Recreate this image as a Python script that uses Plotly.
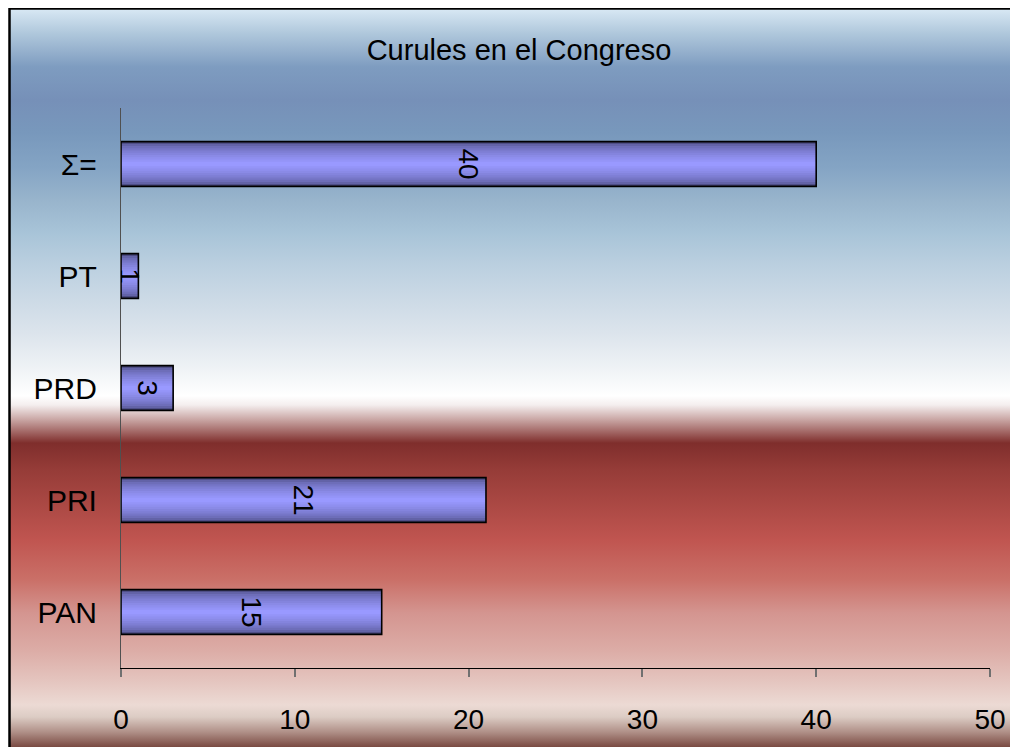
import base64
import plotly.graph_objects as go

# ---- data ----
categories = ["PAN", "PRI", "PRD", "PT", "Σ="]
seats = [15, 21, 3, 1, 40]
x_ticks = [0, 10, 20, 30, 40, 50]
title_text = "Curules en el Congreso"

# ---- styling ----
# The page body has an 8px margin, so figure coords = screenshot coords - 8.
OFF = 8
W, H = 1002, 739
L, T = 121 - OFF, 108 - OFF
R = W - (990 - OFF)
B = H - (668 - OFF)
PW, PH = W - L - R, H - T - B
FONT = "Liberation Sans, Arial, sans-serif"

# background gradient (screenshot y -> colour)
stops = [
    (9, "#d8e8f4"), (33, "#b0c8dc"), (67, "#7e9cc0"), (100, "#7690b8"),
    (133, "#7898bc"), (167, "#84a4c4"), (200, "#98b4cc"), (233, "#a8c4d8"),
    (267, "#bcd0e0"), (300, "#ccdae6"), (333, "#dce4ec"), (367, "#eef2f5"),
    (396, "#ffffff"), (405, "#f4eeee"), (420, "#c8a4a2"), (443, "#7f2e2c"),
    (470, "#963c38"), (540, "#c05550"), (580, "#ca7068"), (613, "#d49590"),
    (650, "#dcaca6"), (680, "#e4c4be"), (705, "#ecdad4"), (717, "#dcccc4"),
    (732, "#b09088"), (747, "#7a4a42"), (755, "#6a3028"), (770, "#5a2820"),
]
y_top = 8
y_bot = 770
hgt = y_bot - y_top
stop_svg = "".join(
    f'<stop offset="{(y - y_top) / hgt:.4f}" stop-color="{c}"/>' for y, c in stops
)
svg = (
    f'<svg xmlns="http://www.w3.org/2000/svg" width="{W}" height="{hgt}" '
    f'viewBox="0 0 {W} {hgt}" preserveAspectRatio="none">'
    f'<defs><linearGradient id="g" x1="0" y1="0" x2="0" y2="1">{stop_svg}</linearGradient></defs>'
    f'<rect x="0" y="0" width="{W}" height="{hgt}" fill="url(#g)"/></svg>'
)
src = "data:image/svg+xml;base64," + base64.b64encode(svg.encode()).decode()


def px_x(px):  # screenshot x -> paper
    return (px - OFF - L) / PW


def px_y(py):  # screenshot y -> paper
    return 1 - (py - OFF - T) / PH


fig = go.Figure()

# bar gradient via overlaid layers
n = 10
edge = (0x48, 0x48, 0x7c)
center = (0x99, 0x99, 0xff)
for i in range(n):
    f = i / (n - 1)
    t = f ** 0.5
    col = tuple(int(edge[k] + (center[k] - edge[k]) * t) for k in range(3))
    w = 0.4 * (1 - i / n)
    fig.add_trace(go.Bar(
        x=seats, y=categories, orientation="h", width=w,
        marker=dict(color="rgb(%d,%d,%d)" % col, line=dict(width=0)),
        hoverinfo="skip", showlegend=False,
    ))

# outline + labels
fig.add_trace(go.Bar(
    x=seats, y=categories, orientation="h", width=0.4,
    marker=dict(color="rgba(0,0,0,0)", line=dict(color="black", width=1.6)),
    text=[str(v) for v in seats], textposition="inside",
    insidetextanchor="middle", textangle=90, constraintext="none",
    textfont=dict(family=FONT, size=28, color="black"),
    showlegend=False,
))

fig.update_layout(
    width=W, height=H,
    margin=dict(l=L, r=R, t=T, b=B, autoexpand=False),
    barmode="overlay",
    paper_bgcolor="white",
    plot_bgcolor="rgba(0,0,0,0)",
    font=dict(family=FONT, size=28, color="black"),
    title=dict(text=title_text, x=(519 - OFF) / W, xanchor="center",
               y=1 - (50 - OFF) / H, yanchor="middle", yref="container",
               font=dict(family=FONT, size=29, color="black")),
    showlegend=False,
    images=[dict(
        source=src, xref="paper", yref="paper",
        x=px_x(9), y=px_y(y_top), sizex=(W + 20) / PW, sizey=hgt / PH,
        xanchor="left", yanchor="top", sizing="stretch", layer="below",
    )],
    shapes=[
        dict(type="line", xref="paper", yref="paper",
             x0=px_x(9), x1=px_x(W + 20), y0=px_y(8.5), y1=px_y(8.5),
             line=dict(color="black", width=2.5)),
        dict(type="line", xref="paper", yref="paper",
             x0=px_x(9.5), x1=px_x(9.5), y0=px_y(8), y1=px_y(H + 40),
             line=dict(color="black", width=2.5)),
    ],
)

fig.update_xaxes(
    range=[0, 50], tickvals=x_ticks, ticktext=[str(v) for v in x_ticks],
    showgrid=False, zeroline=False,
    showline=True, linecolor="black", linewidth=1.2,
    ticks="outside", ticklen=8, tickcolor="#707070", tickwidth=1.5,
    ticklabelstandoff=18, tickfont=dict(size=28),
)
fig.update_yaxes(
    showgrid=False, zeroline=False,
    showline=True, linecolor="#505050", linewidth=1.2,
    ticks="", ticklabelstandoff=17, tickfont=dict(size=30),
)

fig.write_html("out.html")
